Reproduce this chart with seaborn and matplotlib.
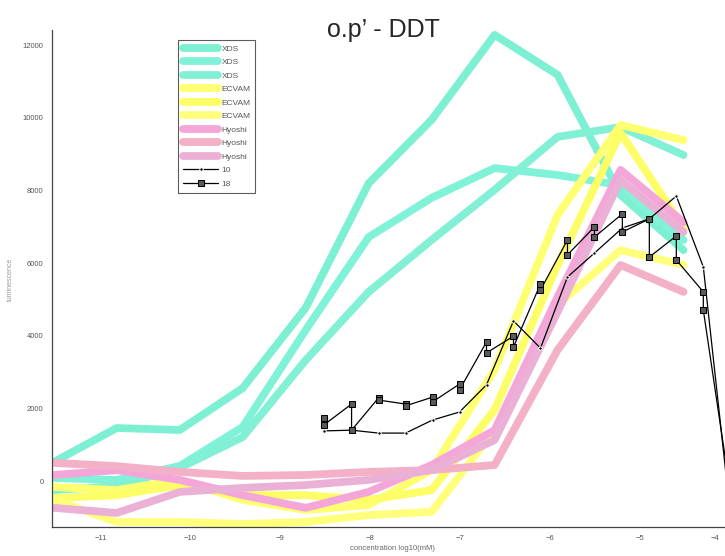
import numpy as np
import pandas as pd
import matplotlib
matplotlib.use('Agg')
import matplotlib.pyplot as plt
import matplotlib.transforms as mtransforms
import seaborn as sns

sns.set_style('white')
plt.rcParams['font.family'] = ['Liberation Sans', 'DejaVu Sans']

# concentrations (log10), 5-fold series for the reference curves, 2-fold for our runs
conc_5fold = [-11.52, -10.82, -10.12, -9.42, -8.72, -8.02, -7.32, -6.62, -5.92, -5.22, -4.52]
conc_2fold = [-8.52, -8.21, -7.91, -7.61, -7.31, -7.01, -6.71, -6.41, -6.11, -5.81,
              -5.51, -5.20, -4.90, -4.60, -4.30, -4.00]

# XDS
xds_1 = [523, 1460, 1405, 2560, 4770, 8200, 9950, 12290, 11190, 7880, 6360]
xds_2 = [83, 28, 413, 1490, 4160, 6720, 7800, 8620, 8430, 8150, 6640]
xds_3 = [-250, -140, 360, 1210, 3330, 5210, 6640, 8020, 9480, 9750, 8980]

# ECVAM
ecvam_1 = [-165, -250, 30, -520, -800, -660, 300, 3060, 7330, 9810, 9390]
ecvam_2 = [-470, -390, -110, -390, -390, -520, -250, 1960, 5950, 9590, 6970]
ecvam_3 = [-520, -1130, -1130, -1185, -1130, -940, -850, 1400, 4850, 6360, 5950]

# Hyoshi
hyoshi_1 = [165, 300, 30, -390, -740, -300, 440, 1400, 5070, 8570, 7130]
hyoshi_2 = [500, 410, 250, 140, 165, 250, 300, 440, 3610, 5950, 5210]
hyoshi_3 = [-740, -880, -300, -190, -110, 30, 300, 1130, 4660, 8290, 6860]

# run "10" (one value per concentration)
run_10 = [1380, 1400, 1320, 1320, 1680, 1900, 2650, 4410, 3660, 5620,
          6280, 6970, 7220, 7850, 5900, -900]

# run "18" (two replicates per concentration)
run_18_a = [1740, 2120, 2290, 2120, 2310, 2670, 3830, 3990, 5430, 6640,
            7000, 7360, 7220, 6750, 5210, -300]
run_18_b = [1540, 1400, 2230, 2070, 2180, 2510, 3530, 3690, 5260, 6230,
            6720, 6860, 6170, 6090, 4710, -600]

curves = [
    ('XDS', xds_1, '#7DF0D3'),
    ('XDS', xds_2, '#80F2D7'),
    ('XDS', xds_3, '#82F0D5'),
    ('ECVAM', ecvam_1, '#FFFF72'),
    ('ECVAM', ecvam_2, '#FDFD66'),
    ('ECVAM', ecvam_3, '#FFFF7C'),
    ('Hyoshi', hyoshi_1, '#F4A6D9'),
    ('Hyoshi', hyoshi_2, '#F3B0C6'),
    ('Hyoshi', hyoshi_3, '#EBB0D6'),
]

df_18 = pd.DataFrame({
    'conc': np.repeat(conc_2fold, 2),
    'value': np.ravel(np.column_stack([run_18_a, run_18_b])),
})

fig = plt.figure(figsize=(7.25, 5.56), dpi=100)
ax = fig.add_axes([52 / 725, 29 / 556, 681 / 725, 497 / 556])

for lab, vals, col in curves:
    sns.lineplot(x=conc_5fold, y=vals, color=col, lw=5.6, label=lab,
                 sort=False, estimator=None, ax=ax)

sns.lineplot(x=conc_2fold, y=run_10, color='black', lw=0.9, marker='o',
             markersize=2.5, label='10', sort=False, estimator=None, ax=ax)
sns.lineplot(data=df_18, x='conc', y='value', color='black', lw=0.9, marker='s',
             markersize=5, markerfacecolor='#5a5a5a', markeredgecolor='black',
             label='18', sort=False, estimator=None, ax=ax)

ax.set_xlim(-11.54, -3.97)
ax.set_ylim(-1267, 12424)
ax.set_xticks(range(-11, -3))
ax.set_yticks(range(0, 12001, 2000))
ax.set_xlabel('')
ax.set_ylabel('')
ax.tick_params(direction='in', length=3, width=0.7, labelsize=5.5,
               colors='#555555', pad=6)
# last tick sits on the picture edge, nudge its label inside
last = ax.get_xticklabels()[-1]
last.set_horizontalalignment('right')
last.set_transform(last.get_transform() +
                   mtransforms.ScaledTranslation(-8 / 72, 0, fig.dpi_scale_trans))
sns.despine(ax=ax)
for s in ['left', 'bottom']:
    ax.spines[s].set_color('#444444')
    ax.spines[s].set_linewidth(0.9)

handles, labels = ax.get_legend_handles_labels()
leg = ax.legend(handles, labels, loc='upper left',
                bbox_to_anchor=(178 / 725, 1 - 40 / 556),
                bbox_transform=fig.transFigure, frameon=True, fancybox=False,
                edgecolor='#333333', fontsize=6, handlelength=4.2,
                labelspacing=0.68, borderpad=0.6, handletextpad=0.4,
                numpoints=1, borderaxespad=0)
leg.get_frame().set_linewidth(0.8)
for t in leg.get_texts():
    t.set_color('#555555')

fig.text(383 / 725, 1 - 37 / 556, 'o.p\u2019 - DDT', fontsize=18,
         ha='center', va='baseline')
fig.text(392 / 725, 1 - 549 / 556, 'concentration log10(mM)', fontsize=5.5,
         color='#666666', ha='center', va='center')
fig.text(10 / 725, 1 - 279 / 556, 'luminescence', fontsize=5, color='#999999',
         rotation=90, ha='center', va='center')

fig.savefig('out.png', dpi=100)
